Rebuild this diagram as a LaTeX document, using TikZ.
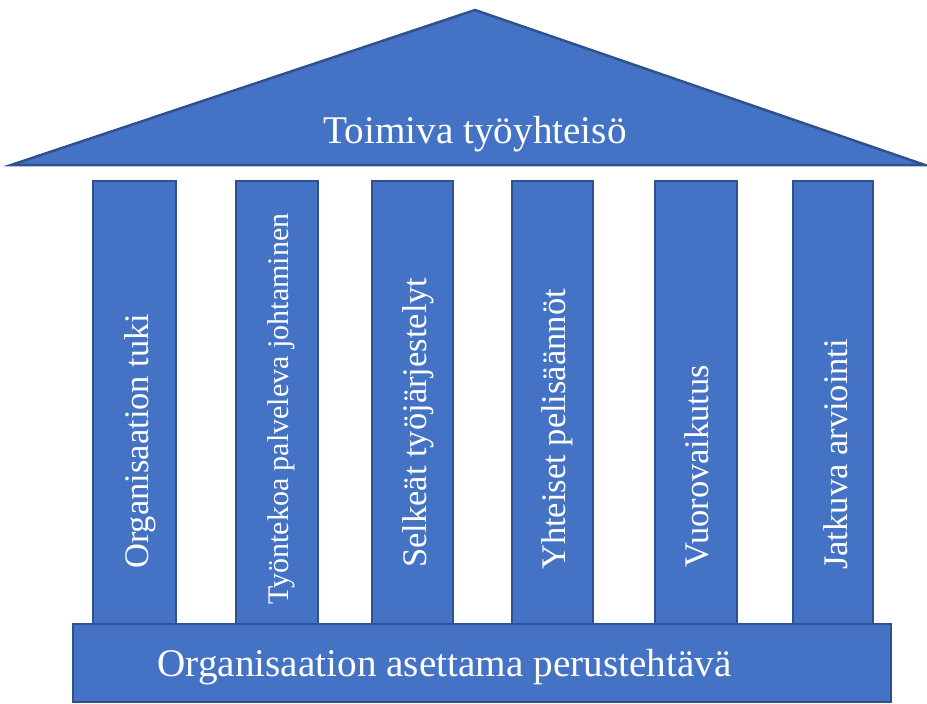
\documentclass[tikz,border=0pt]{standalone}
\usepackage{fontspec}
\setmainfont{Liberation Serif}
\definecolor{fillblue}{HTML}{4472C4}
\definecolor{edgeblue}{HTML}{2F528F}
\tikzset{
  block/.style={draw=edgeblue, fill=fillblue, line width=2.5pt, inner sep=0pt},
  pillar/.style={block, rectangle, minimum width=82pt, minimum height=443pt},
  ptext/.style={text=white, inner sep=0pt, rotate=90, anchor=base west, font=\fontsize{34.5}{36}\selectfont},
  bigtext/.style={text=white, inner sep=0pt, anchor=base, font=\fontsize{39.2}{42}\selectfont},
}
\begin{document}
\begin{tikzpicture}[x=1pt, y=-1pt]
\useasboundingbox (0,0) rectangle (927,704);
% roof
\draw[block, line join=miter] (475,10) coordinate (apex) -- (925,165) coordinate (rr) -- (11,165) coordinate (rl) -- cycle;
\node[bigtext] (rooftext) at (475,143) {Toimiva työyhteisö};
% pillars
\node[pillar, minimum width=83pt] (p1) at (134.5,402.5) {};
\node[pillar] (p2) at (277,402.5) {};
\node[pillar, minimum width=81pt] (p3) at (412.5,402.5) {};
\node[pillar, minimum width=81pt] (p4) at (552.5,402.5) {};
\node[pillar] (p5) at (696,402.5) {};
\node[pillar, minimum width=80pt] (p6) at (833,402.5) {};
\node[ptext] (t1) at (148.5,569) {Organisaation tuki};
\node[ptext, font=\fontsize{30}{32}\selectfont] (t2) at (288,605) {Työntekoa palveleva johtaminen};
\node[ptext] (t3) at (426.5,568) {Selkeät työjärjestelyt};
\node[ptext] (t4) at (565.5,570) {Yhteiset pelisäännöt};
\node[ptext] (t5) at (708,568) {Vuorovaikutus};
\node[ptext] (t6) at (847,570) {Jatkuva arviointi};
% base
\node[block, rectangle, minimum width=818pt, minimum height=78pt] (base) at (482,663) {};
\node[bigtext] (basetext) at (444.5,676) {Organisaation asettama perustehtävä};
\end{tikzpicture}
\end{document}
